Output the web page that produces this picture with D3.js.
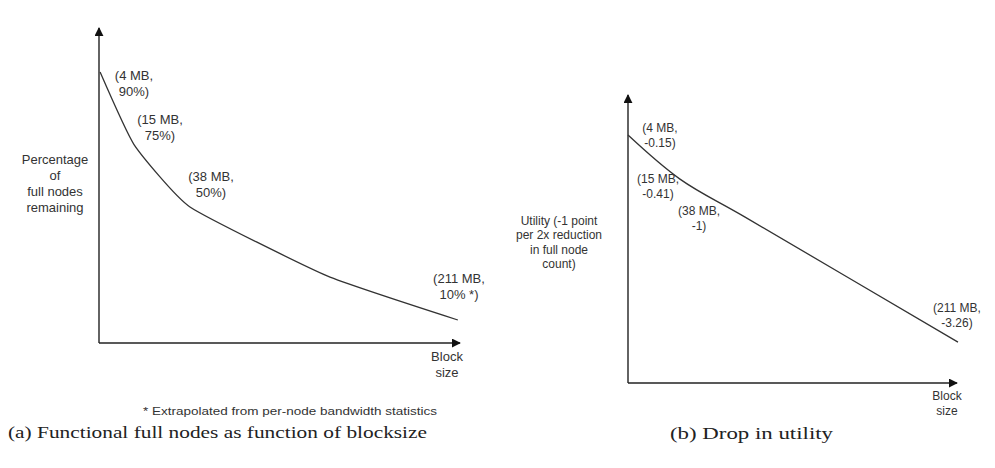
<!DOCTYPE html>
<html>
<head>
<meta charset="utf-8">
<script src="https://cdn.jsdelivr.net/npm/d3@7"></script>
<style>
  body { margin: 0; background: #fff; }
  svg text { font-family: "Liberation Sans", Arial, sans-serif; fill: #333; }
  .cap { font-family: "Liberation Serif", "DejaVu Serif", serif; fill: #222; }
</style>
</head>
<body>
<svg id="chart" width="995" height="468"></svg>
<script>
// 数据: 两张示意图, 位置是相对坐标轴的百分比(示意图, 不按比例)
let blockSizes = ['4 MB', '15 MB', '38 MB', '211 MB'];
let pctLabels = ['90%)', '75%)', '50%)', '10% *)'];
let utilLabels = ['-0.15)', '-0.41)', '-1)', '-3.26)'];

// (a) 曲线的点, 第4个点没有标签
let aPosX = [0.3, 9.7, 25.2, 63.2, 99.4];
let aPosY = [86.0, 63.0, 43.2, 21.3, 7.3];

// (b) 曲线的点
let bPosX = [0, 15.8, 35.6, 100.3];
let bPosY = [86.1, 70.8, 57.6, 14.2];

let svg = d3.select('#chart');

// 箭头
svg.append('defs').append('marker')
    .attr('id', 'arrow')
    .attr('viewBox', '0 0 10 10')
    .attr('refX', 9).attr('refY', 5)
    .attr('markerWidth', 9).attr('markerHeight', 9)
    .attr('markerUnits', 'userSpaceOnUse')
    .attr('orient', 'auto')
    .append('path')
    .attr('d', 'M0,0 L10,5 L0,10 Z')
    .attr('fill', '#111');

function drawPanel(cfg) {
    let x = d3.scaleLinear().domain([0, 100]).range(cfg.xRange);
    let y = d3.scaleLinear().domain([0, 100]).range(cfg.yRange);
    let g = svg.append('g');

    // 坐标轴
    g.append('line')
        .attr('x1', x(0)).attr('y1', y(0))
        .attr('x2', x(0)).attr('y2', y(100))
        .attr('stroke', '#222').attr('stroke-width', 1.4)
        .attr('marker-end', 'url(#arrow)');
    g.append('line')
        .attr('x1', x(0)).attr('y1', y(0))
        .attr('x2', x(100)).attr('y2', y(0))
        .attr('stroke', '#222').attr('stroke-width', 1.4)
        .attr('marker-end', 'url(#arrow)');

    // 曲线
    let pts = cfg.px.map((d, i) => [d, cfg.py[i]]);
    let line = d3.line()
        .x(d => x(d[0]))
        .y(d => y(d[1]))
        .curve(cfg.curve);
    g.append('path')
        .attr('d', line(pts))
        .attr('fill', 'none')
        .attr('stroke', '#333')
        .attr('stroke-width', 1.3)
        .attr('stroke-linejoin', 'round');

    // 多行文字
    function multi(lines, cx, cy, lh) {
        let t = g.append('text').attr('text-anchor', 'middle').style('font-size', cfg.fs + 'px');
        lines.forEach(function (s, j) {
            t.append('tspan').attr('x', cx).attr('y', cy + j * lh)
                .attr('dominant-baseline', 'middle').text(s);
        });
    }
    // 点的标签
    cfg.labels.forEach(lab => multi(lab.lines, lab.cx, lab.cy, cfg.lh));
    // 轴标题
    multi(cfg.yTitle, cfg.yTitlePos[0], cfg.yTitlePos[1], cfg.yTitleLh);
    multi(['Block', 'size'], cfg.xTitlePos[0], cfg.xTitlePos[1], cfg.lh);

    // 图注
    g.append('text')
        .attr('class', 'cap')
        .attr('x', cfg.cap[1]).attr('y', cfg.cap[2])
        .attr('textLength', cfg.cap[3])
        .attr('lengthAdjust', 'spacingAndGlyphs')
        .style('font-size', '17px')
        .text(cfg.cap[0]);
}

// (a)
drawPanel({
    xRange: [99, 460], yRange: [343, 28],
    px: aPosX, py: aPosY,
    curve: d3.curveCardinal.tension(0.55),
    fs: 13, lh: 15.5,
    labels: [
        {lines: ['(' + blockSizes[0] + ',', pctLabels[0]], cx: 134, cy: 77},
        {lines: ['(' + blockSizes[1] + ',', pctLabels[1]], cx: 160, cy: 121},
        {lines: ['(' + blockSizes[2] + ',', pctLabels[2]], cx: 211, cy: 178},
        {lines: ['(' + blockSizes[3] + ',', pctLabels[3]], cx: 459, cy: 280}
    ],
    yTitle: ['Percentage', 'of', 'full nodes', 'remaining'],
    yTitlePos: [55, 161], yTitleLh: 15.7,
    xTitlePos: [447, 358],
    cap: ['(a)  Functional full nodes as function of blocksize', 8, 438, 419]
});

// 脚注
svg.append('text')
    .attr('x', 143).attr('y', 412)
    .attr('dominant-baseline', 'middle')
    .attr('textLength', 294)
    .attr('lengthAdjust', 'spacingAndGlyphs')
    .style('font-size', '11.5px')
    .text('* Extrapolated from per-node bandwidth statistics');

// (b)
drawPanel({
    xRange: [628, 957], yRange: [383, 95],
    px: bPosX, py: bPosY,
    curve: d3.curveCatmullRom.alpha(0.5),
    fs: 12, lh: 14.5,
    labels: [
        {lines: ['(' + blockSizes[0] + ',', utilLabels[0]], cx: 660, cy: 129},
        {lines: ['(' + blockSizes[1] + ',', utilLabels[1]], cx: 658, cy: 180},
        {lines: ['(' + blockSizes[2] + ',', utilLabels[2]], cx: 699, cy: 212},
        {lines: ['(' + blockSizes[3] + ',', utilLabels[3]], cx: 957, cy: 309}
    ],
    yTitle: ['Utility (-1 point', 'per 2x reduction', 'in full node', 'count)'],
    yTitlePos: [559, 222], yTitleLh: 14.2,
    xTitlePos: [947, 397],
    cap: ['(b)  Drop in utility', 670, 439, 163]
});
</script>
</body>
</html>
